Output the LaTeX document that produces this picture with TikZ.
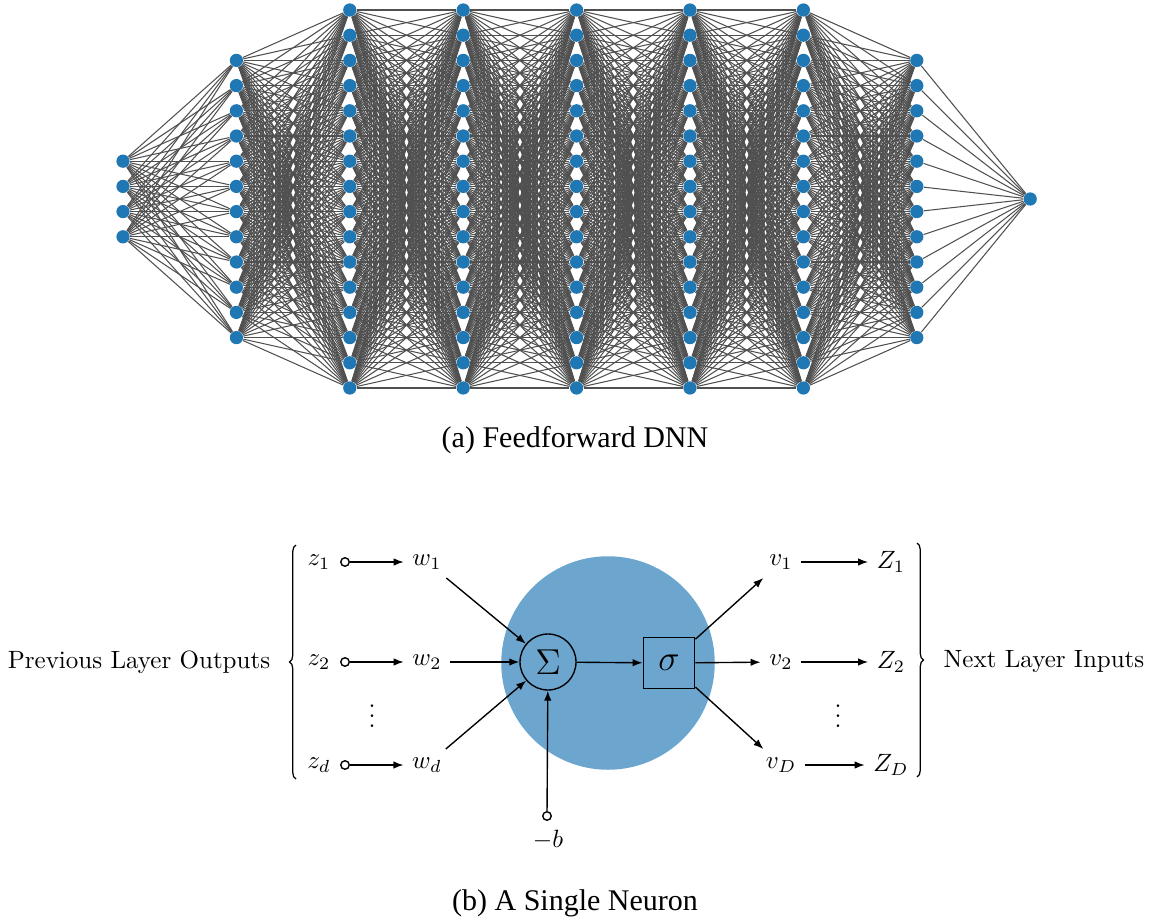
\documentclass[tikz,border=0pt]{standalone}
\usepackage{fontspec}
\newfontfamily\capfont{Liberation Serif}
\usetikzlibrary{arrows.meta,decorations.pathreplacing}
\definecolor{nnblue}{RGB}{31,119,180}
\definecolor{edgegray}{RGB}{80,80,80}
\definecolor{cellblue}{RGB}{108,166,206}
\pgfdeclarelayer{bg}
\pgfsetlayers{bg,main}
\begin{document}
\begin{tikzpicture}[x=0.4pt,y=-0.4pt,
  neuron/.style={circle,fill=nnblue,inner sep=0pt,minimum size=5.3pt},
  edge/.style={draw=edgegray,line width=0.42pt},
  arr/.style={-{Latex[length=4pt,width=3pt]},line width=0.55pt},
  port/.style={circle,draw,fill=white,line width=0.55pt,inner sep=0pt,minimum size=3.4pt},
  lbl/.style={inner sep=3.3pt},
  bracepath/.style={decorate,decoration={brace,amplitude=2.6pt},line width=0.5pt},
  captext/.style={font=\capfont\fontsize{12}{14}\selectfont}]
\useasboundingbox (0,0) rectangle (1153,920);
% ---------- (a) feedforward DNN ----------
\foreach \n [count=\l] in {4,12,16,16,16,16,16,12,1} {
  \foreach \j in {1,...,\n} {
    \node[neuron] (n-\l-\j) at ({123+113.4*(\l-1)}, {199+(\j-(\n+1)/2)*25.2}) {};
  }
}
\begin{pgfonlayer}{bg}
\foreach \a/\na/\b/\nb in {1/4/2/12, 2/12/3/16, 3/16/4/16, 4/16/5/16, 5/16/6/16, 6/16/7/16, 7/16/8/12, 8/12/9/1} {
  \foreach \i in {1,...,\na} {
    \foreach \j in {1,...,\nb} {
      \draw[edge] (n-\a-\i) -- (n-\b-\j);
    }
  }
}
\end{pgfonlayer}
\node[captext] (capa) at (575,440) {(a) Feedforward DNN};
% ---------- (b) single neuron ----------
\node[circle,fill=cellblue,inner sep=0pt,minimum size=85.4pt] (cell) at (608,663) {};
\node[circle,draw,line width=0.55pt,inner sep=0pt,minimum size=22.4pt] (sum) at (548,662) {\Large$\Sigma$};
\node[draw,line width=0.55pt,inner sep=0pt,minimum size=20.6pt] (act) at (669,663) {\Large$\sigma$};

\node (prev) at (139,662) {Previous Layer Outputs};
\node (next) at (1044,662) {Next Layer Inputs};
\coordinate (lbb) at (296,779);
\coordinate (lbt) at (296,545);
\coordinate (rbt) at (917,543);
\coordinate (rbb) at (917,777);
\draw[bracepath] (lbb) -- (lbt);
\draw[bracepath] (rbt) -- (rbb);

\node[lbl] (z1) at (319,562) {$z_1$};
\node[lbl] (z2) at (319,662) {$z_2$};
\node[lbl] (zd) at (319,765) {$z_d$};
\node[port] (p1) at (345,562) {};
\node[port] (p2) at (345,662) {};
\node[port] (pd) at (345,765) {};
\node[lbl] (w1) at (427,562) {$w_1$};
\node[lbl] (w2) at (427,662) {$w_2$};
\node[lbl] (wd) at (427,765) {$w_d$};
\node (ldots) at (372,709) {$\vdots$};
\draw[arr] (p1) -- (w1);
\draw[arr] (p2) -- (w2);
\draw[arr] (pd) -- (wd);
\draw[arr] (w1) -- (sum);
\draw[arr] (w2) -- (sum);
\draw[arr] (wd) -- (sum);

\node[port] (pb) at (547,816) {};
\node[lbl] (bl) at (548,840) {$-b$};
\draw[arr] (pb) -- (sum);
\draw[arr] (sum) -- (act);

\node[lbl] (v1) at (781,562) {$v_1$};
\node[lbl] (v2) at (781,662) {$v_2$};
\node[lbl] (vD) at (781,765) {$v_D$};
\node[lbl] (Z1) at (891,562) {$Z_1$};
\node[lbl] (Z2) at (891,662) {$Z_2$};
\node[lbl] (ZD) at (891,765) {$Z_D$};
\node (rdots) at (838,709) {$\vdots$};
\draw[arr] (act) -- (v1);
\draw[arr] (act) -- (v2);
\draw[arr] (act) -- (vD);
\draw[arr] (v1) -- (Z1);
\draw[arr] (v2) -- (Z2);
\draw[arr] (vD) -- (ZD);

\node[captext] (capb) at (575,903) {(b) A Single Neuron};
\end{tikzpicture}
\end{document}
